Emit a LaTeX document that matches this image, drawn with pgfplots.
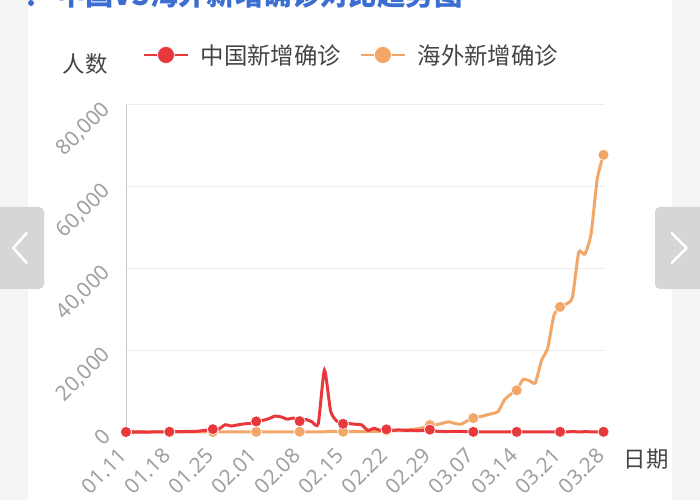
\documentclass[border=0pt]{standalone}
\usepackage{pgfplots}
\usepackage{pgfplotstable}
\pgfplotsset{compat=1.18}
\usepackage{fontspec}
\setmainfont{Noto Sans}
\newfontfamily\cjk{Noto Sans CJK SC}

\definecolor{cnred}{RGB}{232,56,60}
\definecolor{osorange}{RGB}{242,166,104}
\definecolor{ticktxt}{RGB}{160,160,160}
\definecolor{labtxt}{RGB}{68,68,68}
\definecolor{gridc}{RGB}{236,236,236}
\definecolor{axisc}{RGB}{200,200,200}
\definecolor{pagebg}{RGB}{245,245,245}
\definecolor{navbtn}{RGB}{214,214,214}
\definecolor{titleblue}{RGB}{60,110,210}

% day 0 = 01.11, daily new confirmed cases
\pgfplotstableread{
day china overseas
0 0 0
1 0 0
2 0 0
3 0 1
4 0 1
5 4 1
6 17 2
7 59 3
8 77 4
9 77 5
10 149 6
11 131 10
12 259 20
13 444 15
14 688 20
15 769 25
16 1771 30
17 1459 25
18 1737 20
19 1982 30
20 2102 20
21 2590 30
22 2829 20
23 3235 30
24 3887 25
25 3694 30
26 3143 40
27 3399 50
28 2656 70
29 3062 30
30 2478 50
31 2015 60
32 15152 40
33 5090 200
34 2641 60
35 2009 70
36 2048 80
37 1886 90
38 1749 100
39 394 120
40 889 150
41 397 200
42 648 350
43 409 400
44 508 450
45 406 500
46 433 600
47 327 800
48 427 1100
49 573 1700
50 202 1800
51 125 2100
52 119 2500
53 139 2100
54 143 1900
55 99 2700
56 44 3400
57 40 3700
58 19 4100
59 24 4500
60 15 5000
61 8 7800
62 11 9200
63 20 10200
64 16 12800
65 21 12600
66 13 12000
67 34 17500
68 39 20500
69 41 28500
70 46 30600
71 39 31300
72 78 33000
73 47 44000
74 67 43500
75 55 48500
76 54 62000
77 45 67800
}\covid

\begin{document}
\begin{tikzpicture}
\path[use as bounding box] (0,0) rectangle (700bp,500bp);
\fill[pagebg] (0,0) rectangle (700bp,500bp);
\fill[white] (28bp,0) rectangle (672bp,500bp);

% title, cut off by the top edge
\fill[titleblue] (31bp,497bp) circle (3bp);
\node[anchor=base west, inner sep=0pt, text=titleblue, font=\cjk\bfseries\fontsize{28.5}{30}\selectfont] at (57bp,494bp) {中国VS海外新增确诊对比趋势图};

% paging buttons
\fill[navbtn, rounded corners=5bp] (-8bp,211bp) rectangle (44bp,293bp);
\fill[navbtn, rounded corners=5bp] (655bp,211bp) rectangle (708bp,293bp);
\draw[white, line width=2.5bp, line cap=round, line join=round] (26.7bp,267bp) -- (13.3bp,252bp) -- (26.7bp,237bp);
\draw[white, line width=2.5bp, line cap=round, line join=round] (671.7bp,267bp) -- (686.7bp,252bp) -- (671.7bp,237bp);

\node[font=\cjk\fontsize{22.5}{24}\selectfont, text=labtxt] at (85bp,436bp) {人数};
\node[font=\cjk\fontsize{22.5}{24}\selectfont, text=labtxt] at (646bp,41bp) {日期};

\begin{axis}[
    at={(126bp,68bp)}, anchor=south west,
    scale only axis,
    width=477.5bp, height=327bp,
    xmin=0, xmax=77,
    ymin=0, ymax=80000,
    clip=false,
    axis line style={draw=none},
    major tick length=0pt,
    ymajorgrids,
    grid style={gridc, line width=1bp},
    xtick={0,7,...,77},
    xticklabels={01.11,01.18,01.25,02.01,02.08,02.15,02.22,02.29,03.07,03.14,03.21,03.28},
    ytick={0,20000,40000,60000,80000},
    scaled y ticks=false,
    /pgf/number format/assume math mode=true,
    /pgf/number format/1000 sep={,},
    yticklabel style={xshift=-19bp, yshift=-1bp, rotate=45, anchor=east, inner sep=0pt,
        font=\fontsize{21}{22}\selectfont, text=ticktxt},
    xticklabel style={xshift=-3bp, yshift=-20bp, rotate=45, anchor=east, inner sep=0pt,
        font=\fontsize{21}{22}\selectfont, text=ticktxt},
    legend columns=2,
    legend style={at={(0.0356,1.153)}, anchor=west, draw=none, fill=none,
        inner sep=0pt, font=\cjk\fontsize{23.5}{25}\selectfont, text=labtxt,
        /tikz/every odd column/.append style={column sep=10bp},
        /tikz/every even column/.append style={column sep=17bp}},
    legend image code/.code={\draw[#1, line width=1.5bp, mark repeat=2, mark phase=2, mark size=8.5bp]
        plot coordinates {(0bp,0bp) (22bp,0bp) (44bp,0bp)};},
]
\draw[axisc, line width=1bp] (axis cs:0,0) -- (axis cs:0,80000);

\addplot[forget plot, color=osorange, line width=3bp, smooth, tension=0.35,
    mark=*, mark repeat=7, mark size=5.5bp,
    mark options={fill=osorange, draw=white, line width=0.6bp}]
    table[x=day, y=overseas] {\covid};
\addplot[color=cnred, line width=3bp, smooth, tension=0.35,
    mark=*, mark repeat=7, mark size=5.5bp,
    mark options={fill=cnred, draw=white, line width=0.6bp}]
    table[x=day, y=china] {\covid};
\addlegendentry{中国新增确诊}
\addlegendimage{color=osorange, line width=3bp, mark=*, mark size=5.5bp,
    mark options={fill=osorange, draw=white, line width=0.6bp}}
\addlegendentry{海外新增确诊}
\end{axis}
\end{tikzpicture}
\end{document}
